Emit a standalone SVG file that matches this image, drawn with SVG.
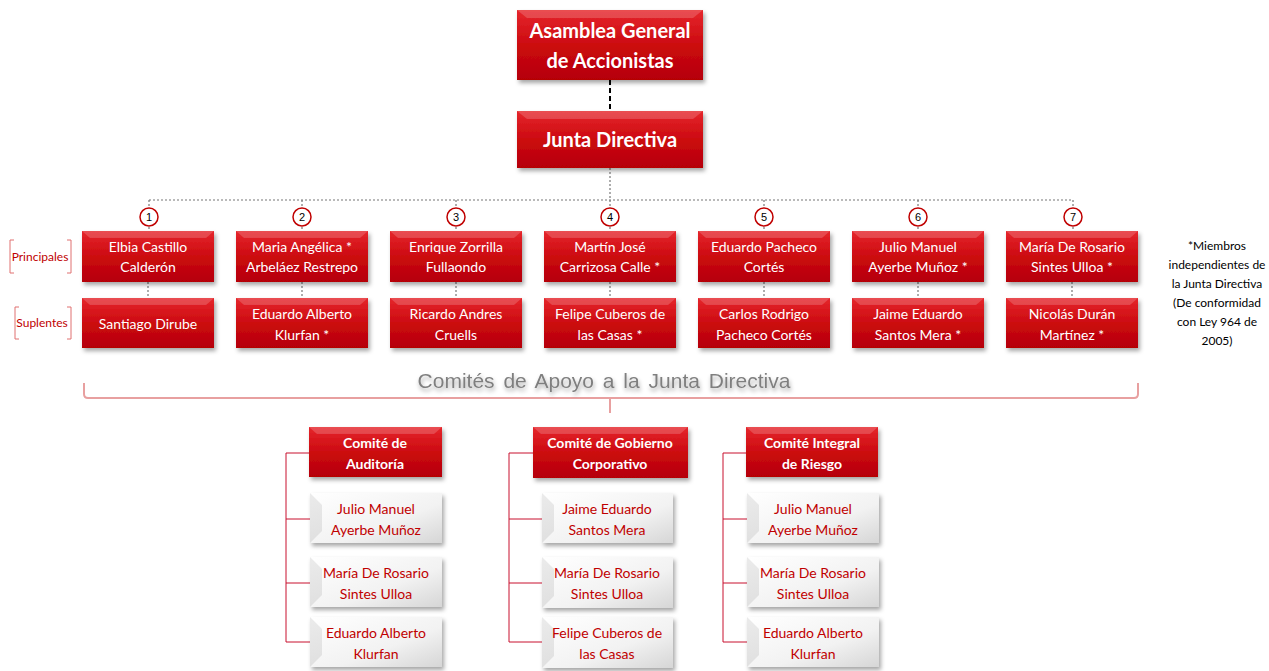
<svg xmlns="http://www.w3.org/2000/svg" width="1269" height="671" viewBox="0 0 1269 671">
<defs>
<linearGradient id="gRed" x1="0" y1="0" x2="0" y2="1">
<stop offset="0" stop-color="#e5262c"/>
<stop offset="0.5" stop-color="#cc0a10"/>
<stop offset="1" stop-color="#b50006"/>
</linearGradient>
<linearGradient id="gWhite" x1="0" y1="0" x2="1" y2="1">
<stop offset="0" stop-color="#ffffff"/>
<stop offset="0.6" stop-color="#f2f2f2"/>
<stop offset="1" stop-color="#d6d6d6"/>
</linearGradient>
<filter id="sh" x="-10%" y="-10%" width="125%" height="135%">
<feDropShadow dx="2" dy="3" stdDeviation="2" flood-color="#000" flood-opacity="0.35"/>
</filter>
<filter id="tsh" x="-5%" y="-20%" width="110%" height="160%">
<feDropShadow dx="1" dy="3" stdDeviation="2" flood-color="#000" flood-opacity="0.35"/>
</filter>
</defs>
<style>
.red{fill:url(#gRed);filter:url(#sh);}
.wht{fill:url(#gWhite);filter:url(#sh);}
.hl{fill:#ffffff;opacity:0.18;}
.dk{fill:#000000;opacity:0.08;}
.t{font-family:Lato,"Open Sans",sans-serif;font-size:14px;fill:#ffffff;text-anchor:middle;}
.tb{font-family:Lato,"Open Sans",sans-serif;font-size:14px;font-weight:bold;fill:#ffffff;text-anchor:middle;}
.tt{font-family:Lato,"Open Sans",sans-serif;font-size:20px;font-weight:bold;fill:#ffffff;text-anchor:middle;}
.tr{font-family:Lato,"Open Sans",sans-serif;font-size:14px;fill:#c00000;text-anchor:middle;}
.lab{font-family:Lato,"Open Sans",sans-serif;font-size:12px;fill:#c00000;text-anchor:middle;}
.note{font-family:Lato,"Open Sans",sans-serif;font-size:12px;fill:#000000;text-anchor:middle;}
.num{font-family:"Liberation Sans",Arial,sans-serif;font-size:11px;fill:#000;text-anchor:middle;}
.circ{fill:#ffffff;stroke:#c00000;stroke-width:1.5;}
.dot{stroke:#777;stroke-width:1.2;stroke-dasharray:2 2;fill:none;}
.rl{stroke:#c8102e;stroke-width:1;fill:none;}
.br{stroke:#e07070;stroke-width:1;fill:none;}
</style>

<g id="connectors">
<line x1="610" y1="80" x2="610" y2="111" stroke="#000" stroke-width="2" stroke-dasharray="5 3"/>
<line class="dot" x1="610" y1="168" x2="610" y2="200"/>
<line class="dot" x1="149" y1="200" x2="1073" y2="200"/>
<path class="dot" d="M149 200V208M302 200V208M456 200V208M610 200V208M764 200V208M918 200V208M1073 200V208"/>
<path class="dot" d="M149 227V231M302 227V231M456 227V231M610 227V231M764 227V231M918 227V231M1073 227V231"/>
<path class="dot" d="M148 282V298M302 282V298M456 282V298M610 282V298M764 282V298M918 282V298M1072 282V298"/>
<path d="M84 383V394Q84 398 88 398H1134Q1138 398 1138 394V383M610 398V413" stroke="#e8a0a0" stroke-width="2" fill="none"/>
<path class="rl" d="M309 453H286V642H310M286 519H310M286 583H310"/>
<path class="rl" d="M533 453H509V642H542M509 519H542M509 583H542"/>
<path class="rl" d="M746 453H723V642H747M723 519H747M723 583H747"/>
</g>

<g id="asamblea">
<rect class="red" x="517" y="10" width="186" height="70"/>
<polygon class="hl" points="517,10 703,10 693,18 527,18"/>
<text class="tt" x="610" y="38">Asamblea General</text>
<text class="tt" x="610" y="68">de Accionistas</text>
</g>
<g id="junta">
<rect class="red" x="517" y="111" width="186" height="57"/>
<polygon class="hl" points="517,111 703,111 693,119 527,119"/>
<text class="tt" x="610" y="147">Junta Directiva</text>
</g>

<g id="label-principales">
<path class="br" d="M14 240H10V273H14M67 240H71V273H67"/>
<text class="lab" x="40" y="261">Principales</text>
</g>
<g id="label-suplentes">
<path class="br" d="M19 307H15V339H19M67 307H71V339H67"/>
<text class="lab" x="42" y="327">Suplentes</text>
</g>

<g id="n1"><circle class="circ" cx="149" cy="217" r="9"/><text class="num" x="149" y="221">1</text></g>
<g id="n2"><circle class="circ" cx="302" cy="217" r="9"/><text class="num" x="302" y="221">2</text></g>
<g id="n3"><circle class="circ" cx="456" cy="217" r="9"/><text class="num" x="456" y="221">3</text></g>
<g id="n4"><circle class="circ" cx="610" cy="217" r="9"/><text class="num" x="610" y="221">4</text></g>
<g id="n5"><circle class="circ" cx="764" cy="217" r="9"/><text class="num" x="764" y="221">5</text></g>
<g id="n6"><circle class="circ" cx="918" cy="217" r="9"/><text class="num" x="918" y="221">6</text></g>
<g id="n7"><circle class="circ" cx="1073" cy="217" r="9"/><text class="num" x="1073" y="221">7</text></g>

<g id="p1"><rect class="red" x="82" y="231" width="132" height="51"/><polygon class="hl" points="82,231 214,231 206,238 90,238"/><text class="t" x="148" y="252">Elbia Castillo</text><text class="t" x="148" y="272">Calderón</text></g>
<g id="p2"><rect class="red" x="236" y="231" width="132" height="51"/><polygon class="hl" points="236,231 368,231 360,238 244,238"/><text class="t" x="302" y="252">Maria Angélica *</text><text class="t" x="302" y="272">Arbeláez Restrepo</text></g>
<g id="p3"><rect class="red" x="390" y="231" width="132" height="51"/><polygon class="hl" points="390,231 522,231 514,238 398,238"/><text class="t" x="456" y="252">Enrique Zorrilla</text><text class="t" x="456" y="272">Fullaondo</text></g>
<g id="p4"><rect class="red" x="544" y="231" width="132" height="51"/><polygon class="hl" points="544,231 676,231 668,238 552,238"/><text class="t" x="610" y="252">Martín José</text><text class="t" x="610" y="272">Carrizosa Calle *</text></g>
<g id="p5"><rect class="red" x="698" y="231" width="132" height="51"/><polygon class="hl" points="698,231 830,231 822,238 706,238"/><text class="t" x="764" y="252">Eduardo Pacheco</text><text class="t" x="764" y="272">Cortés</text></g>
<g id="p6"><rect class="red" x="852" y="231" width="132" height="51"/><polygon class="hl" points="852,231 984,231 976,238 860,238"/><text class="t" x="918" y="252">Julio Manuel</text><text class="t" x="918" y="272">Ayerbe Muñoz *</text></g>
<g id="p7"><rect class="red" x="1006" y="231" width="132" height="51"/><polygon class="hl" points="1006,231 1138,231 1130,238 1014,238"/><text class="t" x="1072" y="252">María De Rosario</text><text class="t" x="1072" y="272">Sintes Ulloa *</text></g>

<g id="s1"><rect class="red" x="82" y="298" width="132" height="50"/><polygon class="hl" points="82,298 214,298 206,305 90,305"/><text class="t" x="148" y="329">Santiago Dirube</text></g>
<g id="s2"><rect class="red" x="236" y="298" width="132" height="50"/><polygon class="hl" points="236,298 368,298 360,305 244,305"/><text class="t" x="302" y="319">Eduardo Alberto</text><text class="t" x="302" y="340">Klurfan *</text></g>
<g id="s3"><rect class="red" x="390" y="298" width="132" height="50"/><polygon class="hl" points="390,298 522,298 514,305 398,305"/><text class="t" x="456" y="319">Ricardo Andres</text><text class="t" x="456" y="340">Cruells</text></g>
<g id="s4"><rect class="red" x="544" y="298" width="132" height="50"/><polygon class="hl" points="544,298 676,298 668,305 552,305"/><text class="t" x="610" y="319">Felipe Cuberos de</text><text class="t" x="610" y="340">las Casas *</text></g>
<g id="s5"><rect class="red" x="698" y="298" width="132" height="50"/><polygon class="hl" points="698,298 830,298 822,305 706,305"/><text class="t" x="764" y="319">Carlos Rodrigo</text><text class="t" x="764" y="340">Pacheco Cortés</text></g>
<g id="s6"><rect class="red" x="852" y="298" width="132" height="50"/><polygon class="hl" points="852,298 984,298 976,305 860,305"/><text class="t" x="918" y="319">Jaime Eduardo</text><text class="t" x="918" y="340">Santos Mera *</text></g>
<g id="s7"><rect class="red" x="1006" y="298" width="132" height="50"/><polygon class="hl" points="1006,298 1138,298 1130,305 1014,305"/><text class="t" x="1072" y="319">Nicolás Durán</text><text class="t" x="1072" y="340">Martínez *</text></g>

<g id="note">
<text class="note" x="1217" y="250">*Miembros</text>
<text class="note" x="1217" y="269">independientes de</text>
<text class="note" x="1217" y="288">la Junta Directiva</text>
<text class="note" x="1217" y="307">(De conformidad</text>
<text class="note" x="1217" y="326">con Ley 964 de</text>
<text class="note" x="1217" y="345">2005)</text>
</g>

<g id="comites-title">
<text x="604" y="388" font-family="'Liberation Sans',Arial,sans-serif" font-size="21" word-spacing="3" fill="#7f7f7f" text-anchor="middle" filter="url(#tsh)">Comités de Apoyo a la Junta Directiva</text>
</g>

<g id="c1"><rect class="red" x="309" y="427" width="133" height="50"/><polygon class="hl" points="309,427 442,427 434,434 317,434"/><text class="tb" x="375" y="448">Comité de</text><text class="tb" x="375" y="469">Auditoría</text></g>
<g id="c2"><rect class="red" x="533" y="427" width="155" height="51"/><polygon class="hl" points="533,427 688,427 680,434 541,434"/><text class="tb" x="610" y="448">Comité de Gobierno</text><text class="tb" x="610" y="469">Corporativo</text></g>
<g id="c3"><rect class="red" x="746" y="427" width="132" height="50"/><polygon class="hl" points="746,427 878,427 870,434 754,434"/><text class="tb" x="812" y="448">Comité Integral</text><text class="tb" x="812" y="469">de Riesgo</text></g>

<g id="m1a"><rect class="wht" x="310" y="493" width="132" height="50"/><polygon class="dk" points="310,493 322,505 322,531 310,543"/><text class="tr" x="376" y="514">Julio Manuel</text><text class="tr" x="376" y="535">Ayerbe Muñoz</text></g>
<g id="m1b"><rect class="wht" x="310" y="557" width="132" height="50"/><polygon class="dk" points="310,557 322,569 322,595 310,607"/><text class="tr" x="376" y="578">María De Rosario</text><text class="tr" x="376" y="599">Sintes Ulloa</text></g>
<g id="m1c"><rect class="wht" x="310" y="617" width="132" height="50"/><polygon class="dk" points="310,617 322,629 322,655 310,667"/><text class="tr" x="376" y="638">Eduardo Alberto</text><text class="tr" x="376" y="659">Klurfan</text></g>

<g id="m2a"><rect class="wht" x="542" y="493" width="131" height="50"/><polygon class="dk" points="542,493 554,505 554,531 542,543"/><text class="tr" x="607" y="514">Jaime Eduardo</text><text class="tr" x="607" y="535">Santos Mera</text></g>
<g id="m2b"><rect class="wht" x="542" y="557" width="131" height="51"/><polygon class="dk" points="542,557 554,569 554,596 542,608"/><text class="tr" x="607" y="578">María De Rosario</text><text class="tr" x="607" y="599">Sintes Ulloa</text></g>
<g id="m2c"><rect class="wht" x="542" y="617" width="131" height="51"/><polygon class="dk" points="542,617 554,629 554,656 542,668"/><text class="tr" x="607" y="638">Felipe Cuberos de</text><text class="tr" x="607" y="659">las Casas</text></g>

<g id="m3a"><rect class="wht" x="747" y="493" width="132" height="50"/><polygon class="dk" points="747,493 759,505 759,531 747,543"/><text class="tr" x="813" y="514">Julio Manuel</text><text class="tr" x="813" y="535">Ayerbe Muñoz</text></g>
<g id="m3b"><rect class="wht" x="747" y="557" width="132" height="50"/><polygon class="dk" points="747,557 759,569 759,595 747,607"/><text class="tr" x="813" y="578">María De Rosario</text><text class="tr" x="813" y="599">Sintes Ulloa</text></g>
<g id="m3c"><rect class="wht" x="747" y="617" width="132" height="50"/><polygon class="dk" points="747,617 759,629 759,655 747,667"/><text class="tr" x="813" y="638">Eduardo Alberto</text><text class="tr" x="813" y="659">Klurfan</text></g>
</svg>
